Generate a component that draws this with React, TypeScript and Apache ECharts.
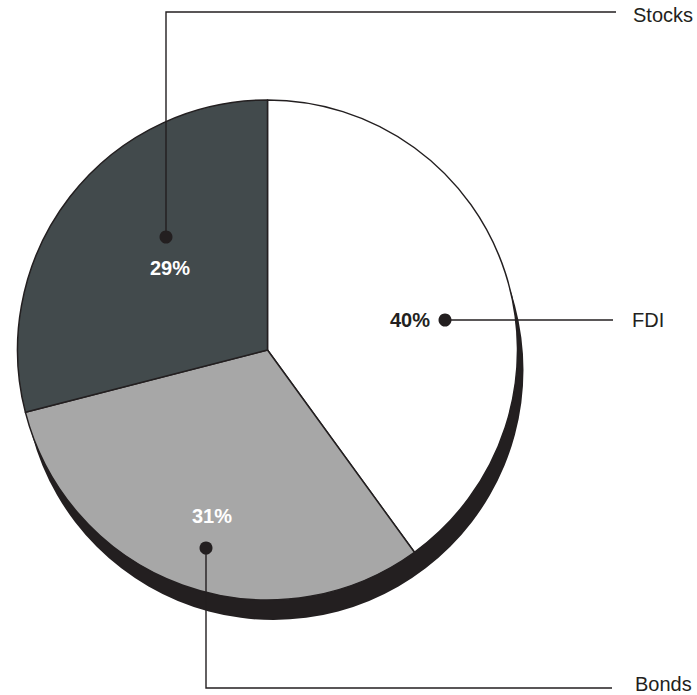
import React, { useEffect, useRef } from "react";
import * as echarts from "echarts";

const categories = ["FDI", "Bonds", "Stocks"];
const values = [40, 31, 29];
const colors = ["#ffffff", "#a7a7a7", "#424a4c"];
const pctColors = ["#231f20", "#ffffff", "#ffffff"];

// annotation layout (pixels): percent label center, dot, leader polyline, name label
const annot = [
  { pct: [410, 320], dot: [445, 320], line: [[445, 320], [613, 320]], name: [632, 320] },
  { pct: [212, 516], dot: [206, 548], line: [[206, 548], [206, 688], [612, 688]], name: [635, 684] },
  { pct: [170, 268], dot: [166, 237], line: [[166, 237], [166, 12], [616, 12]], name: [633, 15] },
];

export default function App() {
  const ref = useRef<HTMLDivElement>(null);
  useEffect(() => {
    if (!ref.current) return;
    const chart = echarts.init(ref.current, null, { renderer: "svg" });
    const total = values.reduce((a, b) => a + b, 0);
    const ink = "#231f20";
    const graphics: any[] = [];
    categories.forEach((c, i) => {
      const a = annot[i];
      graphics.push({
        type: "polyline",
        shape: { points: a.line },
        style: { stroke: ink, lineWidth: 1.4, fill: null },
        z: 10,
      });
      graphics.push({
        type: "circle",
        shape: { cx: a.dot[0], cy: a.dot[1], r: 6.5 },
        style: { fill: ink },
        z: 11,
      });
      graphics.push({
        type: "text",
        x: a.pct[0],
        y: a.pct[1],
        style: {
          text: Math.round((values[i] / total) * 100) + "%",
          fill: pctColors[i],
          font: "bold 20px 'Liberation Sans', Arial, sans-serif",
          textAlign: "center",
          textVerticalAlign: "middle",
        },
        z: 11,
      });
      graphics.push({
        type: "text",
        x: a.name[0],
        y: a.name[1],
        style: {
          text: c,
          fill: ink,
          font: "20px 'Liberation Sans', Arial, sans-serif",
          textAlign: "left",
          textVerticalAlign: "middle",
        },
        z: 11,
      });
    });
    chart.setOption({
      animation: false,
      backgroundColor: "#ffffff",
      series: [
        {
          type: "pie",
          silent: true,
          center: [273.5, 370],
          radius: 250,
          startAngle: 90,
          label: { show: false },
          labelLine: { show: false },
          itemStyle: { color: ink, borderWidth: 0 },
          data: [{ name: "shadow", value: total }],
          z: 1,
        },
        {
          type: "pie",
          center: [267.5, 350],
          radius: 250,
          startAngle: 90,
          clockwise: true,
          label: { show: false },
          labelLine: { show: false },
          emphasis: { disabled: true },
          itemStyle: { borderColor: ink, borderWidth: 1.5 },
          data: categories.map((c, i) => ({
            name: c,
            value: values[i],
            itemStyle: { color: colors[i] },
          })),
          z: 2,
        },
      ],
      graphic: graphics,
    });
    return () => chart.dispose();
  }, []);
  return (
    <div
      ref={ref}
      style={{ position: "fixed", left: 0, top: 0, width: 697, height: 695 }}
    />
  );
}
